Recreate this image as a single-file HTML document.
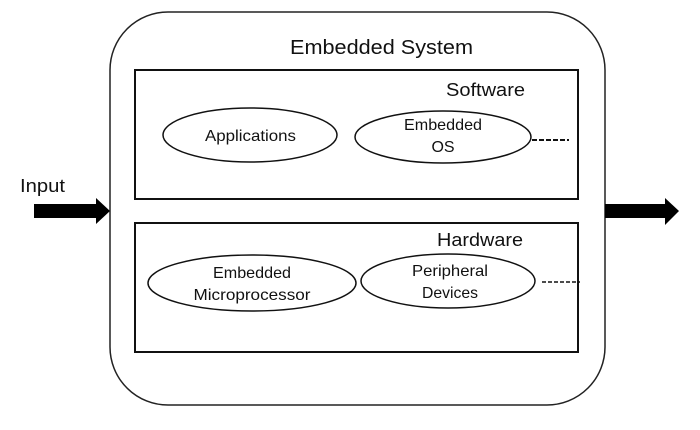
<!DOCTYPE html>
<html><head><meta charset="utf-8"><style>
html,body{margin:0;padding:0;background:#fff;width:700px;height:430px;overflow:hidden}
svg text{font-family:"Liberation Sans",sans-serif;fill:#111}
</style></head><body>
<svg width="700" height="430" viewBox="0 0 700 430" xmlns="http://www.w3.org/2000/svg">
<rect x="110" y="12" width="495" height="393" rx="58" ry="58" fill="none" stroke="#222" stroke-width="1.5"/>
<text x="290" y="54" font-size="20" textLength="183" lengthAdjust="spacingAndGlyphs">Embedded System</text>
<rect x="135" y="70" width="443" height="129" fill="none" stroke="#111" stroke-width="2"/>
<text x="446" y="96" font-size="18" textLength="79" lengthAdjust="spacingAndGlyphs">Software</text>
<rect x="135" y="223" width="443" height="129" fill="none" stroke="#111" stroke-width="2"/>
<text x="437" y="246" font-size="18" textLength="86" lengthAdjust="spacingAndGlyphs">Hardware</text>
<ellipse cx="250" cy="135" rx="87" ry="27" fill="none" stroke="#111" stroke-width="1.5"/>
<text x="205" y="141" font-size="16" textLength="91" lengthAdjust="spacingAndGlyphs">Applications</text>
<ellipse cx="443" cy="137" rx="88" ry="26" fill="none" stroke="#111" stroke-width="1.5"/>
<text x="443" y="130" font-size="16" text-anchor="middle" textLength="78" lengthAdjust="spacingAndGlyphs">Embedded</text>
<text x="443" y="152" font-size="16" text-anchor="middle">OS</text>
<line x1="532" y1="140" x2="569" y2="140" stroke="#111" stroke-width="2" stroke-dasharray="5,2"/>
<ellipse cx="252" cy="283" rx="104" ry="28" fill="none" stroke="#111" stroke-width="1.5"/>
<text x="252" y="278" font-size="16" text-anchor="middle" textLength="78" lengthAdjust="spacingAndGlyphs">Embedded</text>
<text x="252" y="300" font-size="16" text-anchor="middle" textLength="117" lengthAdjust="spacingAndGlyphs">Microprocessor</text>
<ellipse cx="448" cy="281" rx="87" ry="27" fill="none" stroke="#111" stroke-width="1.5"/>
<text x="450" y="276" font-size="16" text-anchor="middle" textLength="76" lengthAdjust="spacingAndGlyphs">Peripheral</text>
<text x="450" y="298" font-size="16" text-anchor="middle" textLength="56" lengthAdjust="spacingAndGlyphs">Devices</text>
<line x1="542" y1="282" x2="580" y2="282" stroke="#111" stroke-width="1.5" stroke-dasharray="4,2"/>
<text x="20" y="192" font-size="18" textLength="45" lengthAdjust="spacingAndGlyphs">Input</text>
<polygon points="34,204 96,204 96,198 110,211 96,224 96,218 34,218" fill="#000"/>
<polygon points="605,204 665,204 665,198 679,211 665,225 665,218 605,218" fill="#000"/>
</svg>
</body></html>
